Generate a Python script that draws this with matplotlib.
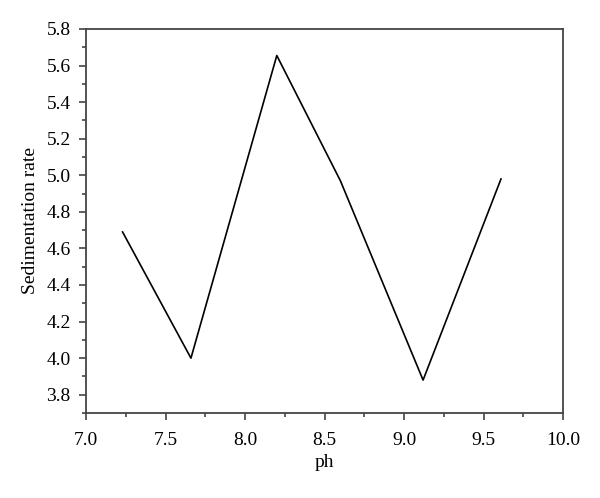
import matplotlib
matplotlib.use("Agg")
import matplotlib.pyplot as plt
from matplotlib.ticker import MultipleLocator

PH   = [7.23, 7.66, 8.20, 8.60, 9.12, 9.61]
RATE = [4.69, 4.00, 5.655, 4.97, 3.88, 4.98]

plt.rcParams["font.family"] = ["Liberation Serif", "DejaVu Serif"]

fig = plt.figure(figsize=(6.0, 4.98), dpi=100)
ax = fig.add_axes([86/600, 1 - 413/498, (563-86)/600, (413-29)/498])

ax.plot(PH, RATE, color="black", linewidth=1.2)

ax.set_xlim(7.0, 10.0)
ax.set_ylim(3.7, 5.8)
ax.xaxis.set_major_locator(MultipleLocator(0.5))
ax.xaxis.set_minor_locator(MultipleLocator(0.25))
ax.yaxis.set_major_locator(MultipleLocator(0.2))
ax.yaxis.set_minor_locator(MultipleLocator(0.1))
ax.xaxis.set_major_formatter(plt.FormatStrFormatter("%.1f"))
ax.yaxis.set_major_formatter(plt.FormatStrFormatter("%.1f"))

for spine in ax.spines.values():
    spine.set_color("#444444")
    spine.set_linewidth(1.3)
ax.tick_params(which="both", direction="out", top=False, right=False,
               color="#444444", width=1.2)
ax.tick_params(which="major", length=5, labelsize=14, pad=6)
ax.tick_params(axis="x", which="major", pad=9)
ax.tick_params(which="minor", length=3)

ax.set_xlabel("ph", fontsize=14, labelpad=3)
ax.set_ylabel("Sedimentation rate", fontsize=14, labelpad=5)

fig.savefig("out.png", dpi=100)
